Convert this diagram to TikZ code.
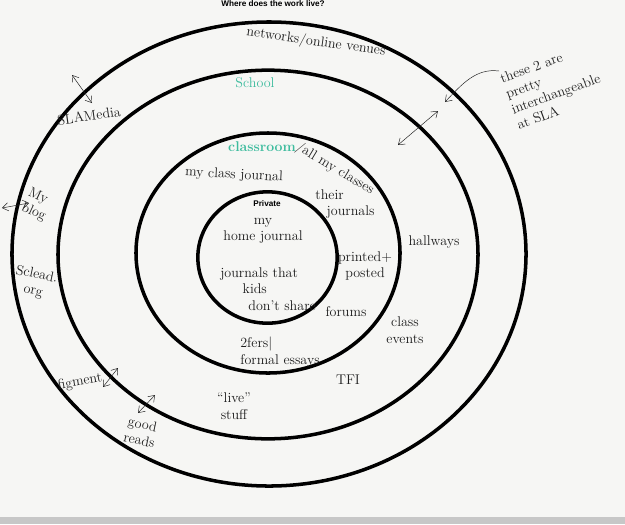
\documentclass[tikz,border=0pt]{standalone}
\usepackage{fontspec}
\setsansfont{Liberation Sans}
\usetikzlibrary{arrows.meta}

\definecolor{paper}{RGB}{246,246,244}
\definecolor{marker}{RGB}{62,188,158}
\definecolor{pen}{RGB}{30,30,30}

\tikzset{
    ring/.style={draw=black, line width=3pt},
    hand/.style={font=\fontsize{12}{14}\selectfont, text=pen, inner sep=0pt, align=center},
    printed/.style={font=\sffamily\bfseries\fontsize{7}{8}\selectfont, inner sep=0pt},
    twoway/.style={draw=pen, thin, {Straight Barb[length=5pt,width=7pt]}-{Straight Barb[length=5pt,width=7pt]}},
    oneway/.style={draw=pen, thin, -{Straight Barb[length=5pt,width=7pt]}}
}

\begin{document}
\begin{tikzpicture}[x=0.03cm, y=-0.03cm]
    % paper
    \fill[paper] (0,0) rectangle (625,524);
    \useasboundingbox (0,0) rectangle (625,524);
    \fill[black!22] (0,517) rectangle (625,524);

    % the four rings
    \draw[ring] (269,254) ellipse [x radius=7.71cm, y radius=6.96cm];
    \draw[ring] (268,254.5) ellipse [x radius=6.30cm, y radius=5.53cm];
    \draw[ring] (268,253) ellipse [x radius=3.96cm, y radius=3.60cm];
    \draw[ring] (267.5,257.5) ellipse [x radius=2.09cm, y radius=1.97cm];

    \node[printed] (title) at (273,4) {Where does the work live?};
    \node[printed] (private) at (267,204) {Private};

    % innermost
    \node[hand] (homejournal) at (263,231) {my\\home journal};
    \node[hand, align=left] (kidsjournals) at (268,289) {journals that\\\hspace{1.6em}kids\\\hspace{2em}don't share};

    % classroom ring
    \node[hand, text=marker, font=\bfseries\fontsize{12}{14}\selectfont] (classroom) at (262,147) {classroom};
    \node[hand, rotate=-31, anchor=west] (allclasses) at (297,146) {/all my classes};
    \node[hand, rotate=-3] (classjournal) at (234,175) {my class journal};
    \node[hand, align=left] (their) at (345,204) {their\\\hspace{0.8em}journals};
    \node[hand] (printedposted) at (365,266) {printed+\\posted};
    \node[hand] (forums) at (346,312) {forums};
    \node[hand, align=left] (essays) at (280,352) {2fers$|$\\formal essays};

    % school ring
    \node[hand, text=marker] (school) at (255,83) {School};
    \node[hand] (hallways) at (434,242) {hallways};
    \node[hand] (events) at (405,330) {class\\events};
    \node[hand] (tfi) at (348,380) {TFI};
    \node[hand] (live) at (234,406) {``live''\\stuff};

    % outer ring
    \node[hand, rotate=-8] (networks) at (316,42) {networks/online venues};
    \node[hand, rotate=8] (slamedia) at (89,116) {SLAMedia};
    \node[hand, rotate=-25, align=left] (blog) at (37,205) {My\\blog};
    \node[hand, rotate=-12] (sclead) at (35,283) {Sclead.\\org};
    \node[hand, rotate=10] (figment) at (80,382) {figment};
    \node[hand, rotate=-12] (goodreads) at (141,432) {good\\reads};

    % side note
    \node[hand, rotate=20, align=left] (note) at (553,86) {these 2 are\\pretty\\interchangeable\\at SLA};

    % arrows across the rings
    \coordinate (mediaout) at (72,75);
    \coordinate (mediain) at (92,103);
    \coordinate (blogout) at (2,208);
    \coordinate (blogin) at (29,203);
    \coordinate (swapin) at (398,145);
    \coordinate (swapout) at (438,111);
    \coordinate (figin) at (103,387);
    \coordinate (figout) at (118,368);
    \coordinate (grin) at (138,413);
    \coordinate (grout) at (155,395);
    \coordinate (notetail) at (499,71);
    \coordinate (notetip) at (445,102);

    \draw[twoway] (mediaout) -- (mediain);
    \draw[twoway] (blogout) -- (blogin);
    \draw[twoway] (swapin) -- (swapout);
    \draw[twoway] (figin) -- (figout);
    \draw[twoway] (grin) -- (grout);
    \draw[oneway] (notetail) .. controls (476,68) and (462,84) .. (notetip);
\end{tikzpicture}
\end{document}
